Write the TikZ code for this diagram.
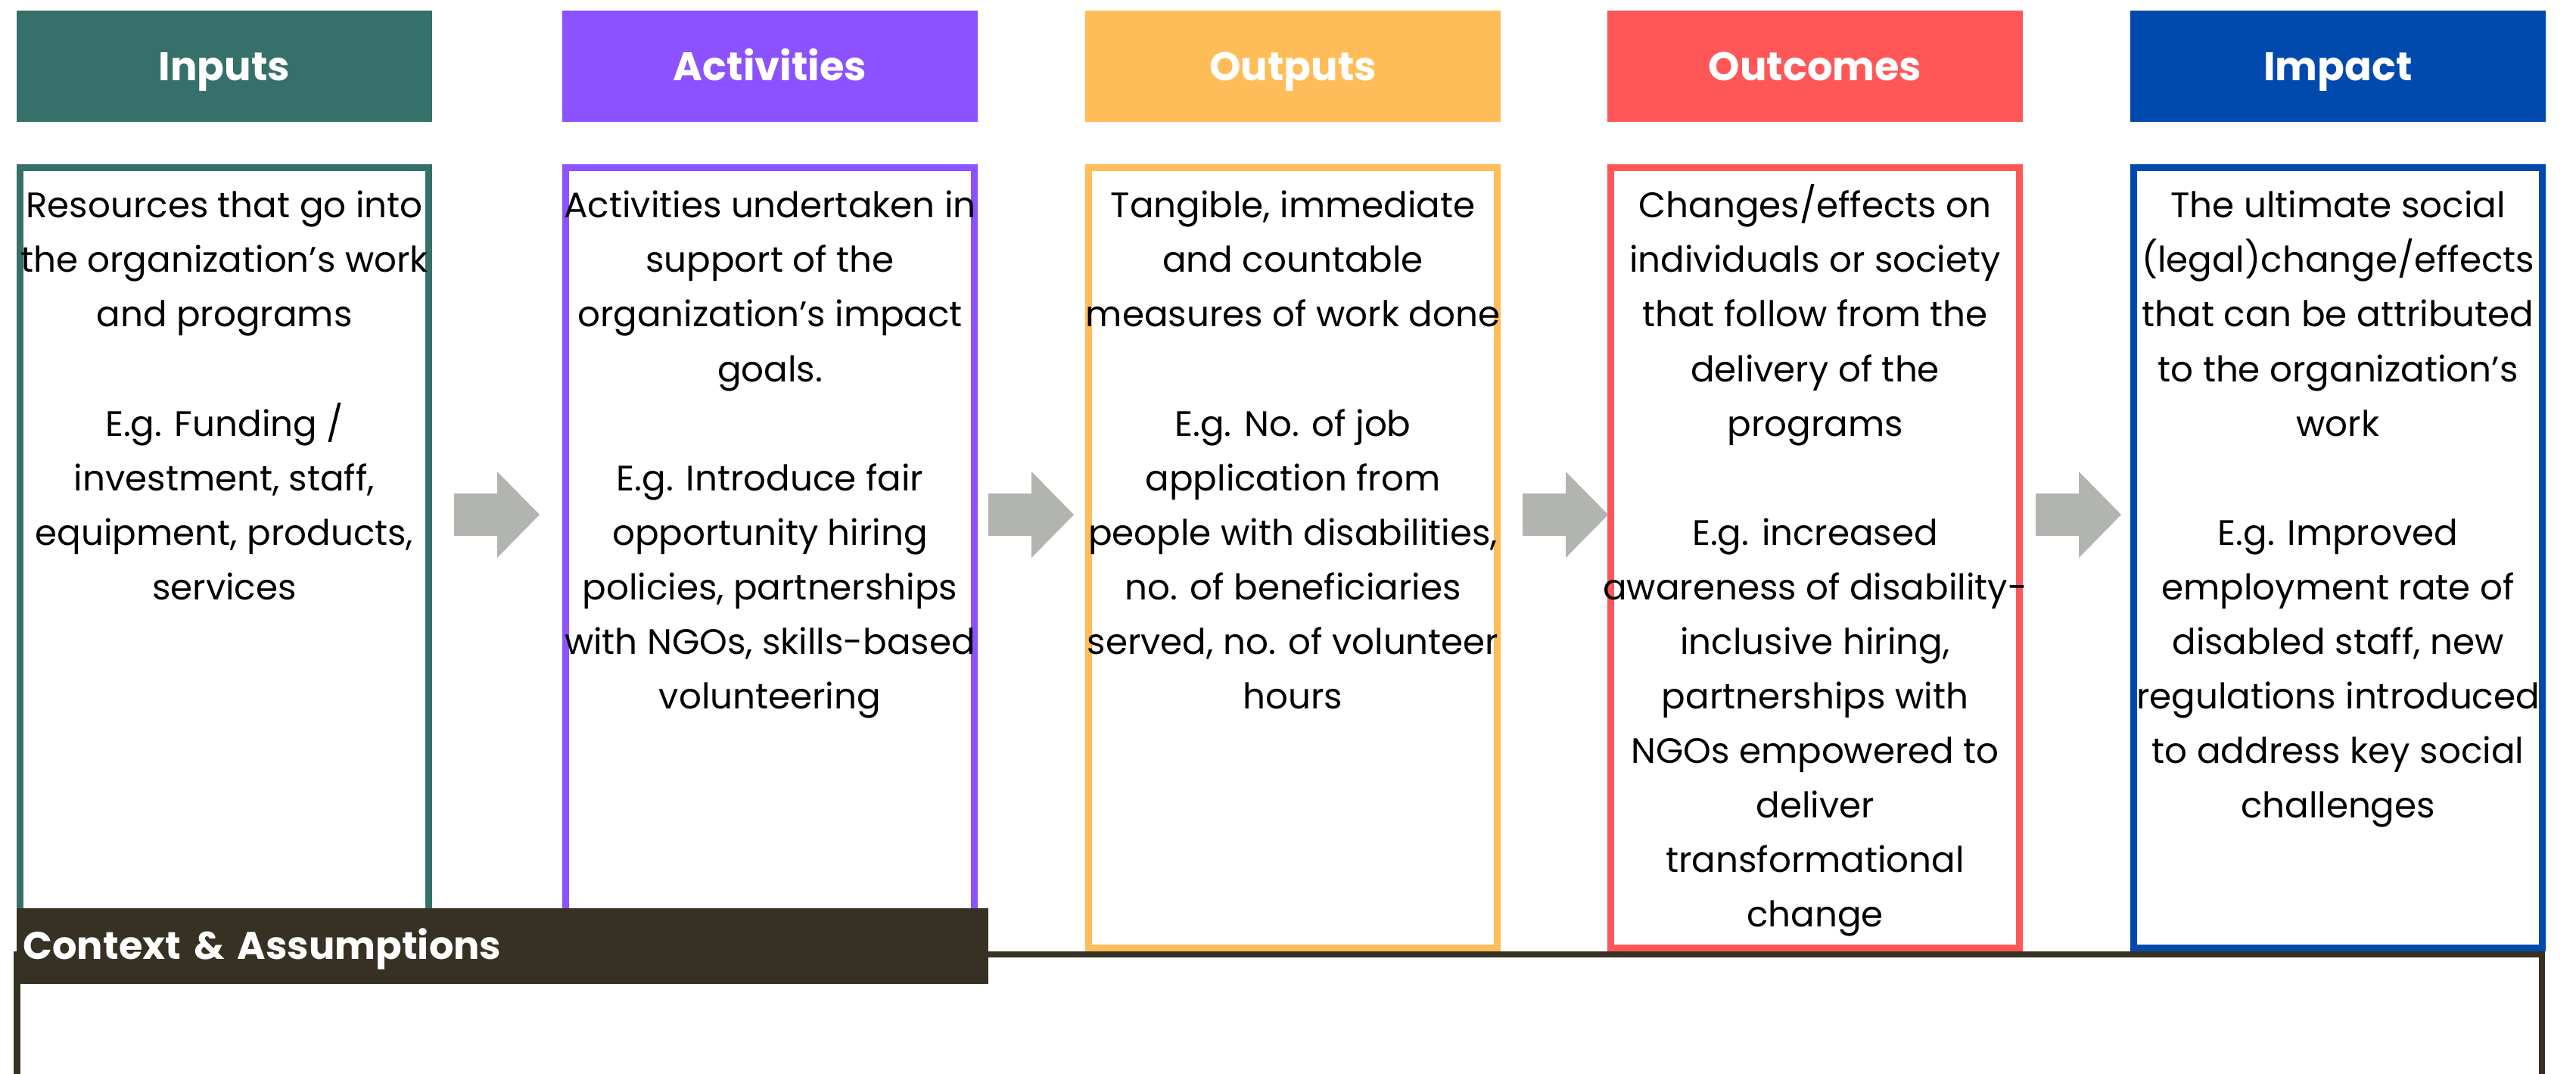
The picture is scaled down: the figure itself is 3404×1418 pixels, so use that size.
\documentclass[tikz,border=0pt]{standalone}
\usepackage{fontspec}
\setmainfont{Poppins}
\usepackage{xcolor}
\usepackage{tikz}
\usetikzlibrary{positioning, calc}
\definecolor{lmcolor0}{HTML}{36706A}
\definecolor{lmcolor1}{HTML}{8C52FF}
\definecolor{lmcolor2}{HTML}{FFBD59}
\definecolor{lmcolor3}{HTML}{FF5757}
\definecolor{lmcolor4}{HTML}{004AAD}
\definecolor{lmcolor5}{HTML}{363123}
\definecolor{lmcolor6}{HTML}{B2B4B0}
\newcommand{\lmstrut}{\rule{0pt}{20pt}}
\tikzset{
  header_node/.style={rectangle, minimum width=5.49cm, minimum height=1.47cm, inner sep=0pt, text height=10.6pt, text depth=0pt, text=white, font=\fontsize{15pt}{18pt}\selectfont\bfseries},
  stage_box/.style={rectangle, fill=white, line width=0.09cm, minimum width=5.40cm, minimum height=10.31cm, inner sep=0pt},
  stage_text/.style={inner sep=0pt, align=center, anchor=north, text=black, font=\fontsize{13.3pt}{20.5pt}\selectfont},
  flow_arrow/.style={fill=lmcolor6, draw=none},
  context_bar/.style={rectangle, fill=lmcolor5, minimum height=1.0cm, text width=12.66cm, inner xsep=0.09cm, inner ysep=0pt, text height=10.2pt, text depth=0pt, align=left, text=white, font=\fontsize{14.5pt}{18pt}\selectfont\bfseries},
  context_frame/.style={draw=lmcolor5, line width=0.085cm}
}
\begin{document}
\begin{tikzpicture}[x=0.01cm, y=-0.01cm]
\useasboundingbox (0,0) rectangle (3404,1418);
\draw[context_frame] (22.5,1440) -- (22.5,1261) -- (3359,1261) -- (3359,1440);
\node[header_node, fill=lmcolor0] (inputs_header) at (296.5,87.5) {Inputs};
\node[header_node, fill=lmcolor1] (activities_header) at (1017.5,87.5) {Activities};
\node[header_node, fill=lmcolor2] (outputs_header) at (1708.5,87.5) {Outputs};
\node[header_node, fill=lmcolor3] (outcomes_header) at (2398.5,87.5) {Outcomes};
\node[header_node, fill=lmcolor4] (impact_header) at (3089.5,87.5) {Impact};
\node[stage_box, draw=lmcolor0] (inputs_box) at (296.5,737) {};
\node[stage_box, draw=lmcolor1] (activities_box) at (1017.5,737) {};
\node[stage_box, draw=lmcolor2] (outputs_box) at (1708.5,737) {};
\node[stage_box, draw=lmcolor3] (outcomes_box) at (2398.5,737) {};
\node[stage_box, draw=lmcolor4] (impact_box) at (3089.5,737) {};
\node[stage_text, below=0cm of inputs_box.north] (inputs_text) {\lmstrut Resources that go into\\the organization’s work\\and programs\\ \mbox{}\\E.g. Funding /\\investment, staff,\\equipment, products,\\services};
\node[stage_text, below=0cm of activities_box.north] (activities_text) {\lmstrut Activities undertaken in\\support of the\\organization’s impact\\goals.\\ \mbox{}\\E.g. Introduce fair\\opportunity hiring\\policies, partnerships\\with NGOs, skills-based\\volunteering};
\node[stage_text, below=0cm of outputs_box.north] (outputs_text) {\lmstrut Tangible, immediate\\and countable\\measures of work done\\ \mbox{}\\E.g. No. of job\\application from\\people with disabilities,\\no. of beneficiaries\\served, no. of volunteer\\hours};
\node[stage_text, below=0cm of outcomes_box.north] (outcomes_text) {\lmstrut Changes/effects on\\individuals or society\\that follow from the\\delivery of the\\programs\\ \mbox{}\\E.g. increased\\awareness of disability-\\inclusive hiring,\\partnerships with\\NGOs empowered to\\deliver\\transformational\\change};
\node[stage_text, below=0cm of impact_box.north] (impact_text) {\lmstrut The ultimate social\\(legal)change/effects\\that can be attributed\\to the organization’s\\work\\ \mbox{}\\E.g. Improved\\employment rate of\\disabled staff, new\\regulations introduced\\to address key social\\challenges};
\coordinate (arrow_tip_1) at (713,680);
\coordinate (arrow_tip_2) at (1419,680);
\coordinate (arrow_tip_3) at (2125,680);
\coordinate (arrow_tip_4) at (2803,680);
\fill[flow_arrow] (arrow_tip_1) -- ++(-56,-57) -- ++(0,29) -- ++(-57,0) -- ++(0,56) -- ++(57,0) -- ++(0,29) -- cycle;
\fill[flow_arrow] (arrow_tip_2) -- ++(-56,-57) -- ++(0,29) -- ++(-57,0) -- ++(0,56) -- ++(57,0) -- ++(0,29) -- cycle;
\fill[flow_arrow] (arrow_tip_3) -- ++(-56,-57) -- ++(0,29) -- ++(-57,0) -- ++(0,56) -- ++(57,0) -- ++(0,29) -- cycle;
\fill[flow_arrow] (arrow_tip_4) -- ++(-56,-57) -- ++(0,29) -- ++(-57,0) -- ++(0,56) -- ++(57,0) -- ++(0,29) -- cycle;
\node[context_bar] (context_header) at (664,1250) {Context \& Assumptions};
\end{tikzpicture}
\end{document}
